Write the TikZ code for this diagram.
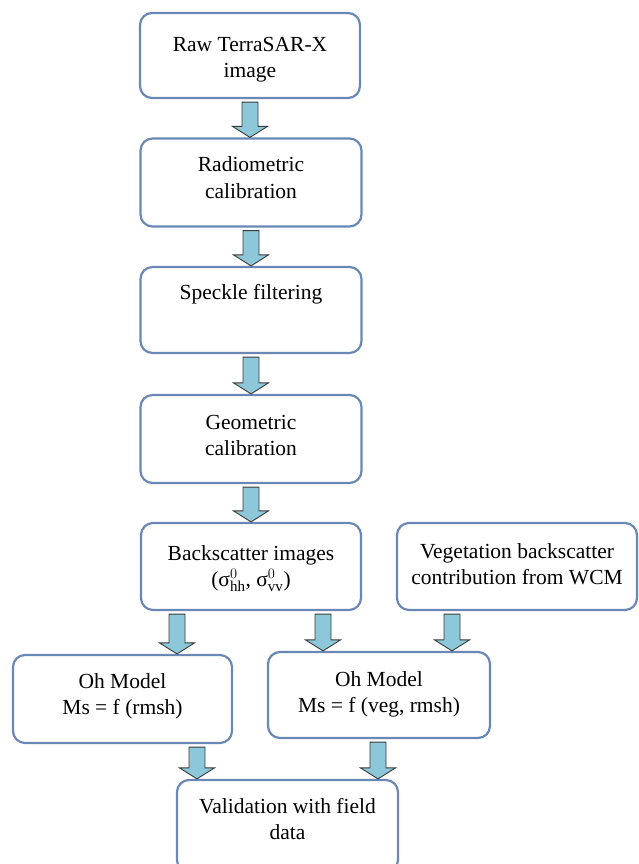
\documentclass[tikz,border=0pt]{standalone}
\usepackage{fontspec}
\setmainfont{Liberation Serif}
\usetikzlibrary{calc}
\definecolor{boxline}{HTML}{6A88B5}
\definecolor{arrfill}{HTML}{8CC8DA}
\definecolor{arrline}{HTML}{3A3A3A}
\tikzset{
  box/.style={draw=boxline, line width=2.2pt, rounded corners=12pt, fill=white, inner sep=0pt},
  txt/.style={anchor=north, align=center, inner sep=0pt, font=\fontsize{21.5}{26.5}\selectfont},
  fat/.style={draw=arrline, fill=arrfill, line width=0.9pt, line join=miter}
}
\newcommand\fatarrow[2]{%
  \draw[fat] let \p1=(#1), \p2=(#2) in
    ({\x1-8pt},{\y1-3pt}) -- ({\x1+8pt},{\y1-3pt}) -- ({\x1+8pt},{\y2+11pt}) --
    ({\x1+17.5pt},{\y2+11pt}) -- ({\x1},{\y2}) -- ({\x1-17.5pt},{\y2+11pt}) --
    ({\x1-8pt},{\y2+11pt}) -- cycle;}
\begin{document}
\begin{tikzpicture}[x=1pt,y=-1pt]
\useasboundingbox (0,0) rectangle (639,864);
\clip (0,0) rectangle (639,864);
\node[box, minimum width=220pt, minimum height=85pt] (b1) at (250,55.5) {};
\node[box, minimum width=221pt, minimum height=88pt] (b2) at (251,182.5) {};
\node[box, minimum width=221pt, minimum height=86pt] (b3) at (251,310) {};
\node[box, minimum width=221pt, minimum height=88pt] (b4) at (251,439) {};
\node[box, minimum width=220pt, minimum height=87pt] (b5) at (251,566.5) {};
\node[box, minimum width=240pt, minimum height=87pt] (b6) at (517,566.5) {};
\node[box, minimum width=219pt, minimum height=88pt] (b7) at (122.5,699) {};
\node[box, minimum width=222pt, minimum height=86pt] (b8) at (379,695) {};
\node[box, minimum width=221pt, minimum height=92pt] (b9) at (287.5,826) {};

\node[txt, yshift=-25pt] (t1) at (b1.north) {Raw TerraSAR-X\\image};
\node[txt, yshift=-19pt] (t2) at (b2.north) {Radiometric\\calibration};
\node[txt, yshift=-18pt] (t3) at (b3.north) {Speckle filtering};
\node[txt, yshift=-21pt] (t4) at (b4.north) {Geometric\\calibration};
\node[txt, yshift=-23pt] (t5) at (b5.north) {Backscatter images\\(σ$^{0}_{\mathrm{hh}}$, σ$^{0}_{\mathrm{vv}}$)};
\node[txt, yshift=-21pt] (t6) at (b6.north) {Vegetation backscatter\\contribution from WCM};
\node[txt, yshift=-19pt] (t7) at (b7.north) {Oh Model\\Ms = f (rmsh)};
\node[txt, yshift=-20pt] (t8) at (b8.north) {Oh Model\\Ms = f (veg, rmsh)};
\node[txt, yshift=-19pt] (t9) at (b9.north) {Validation with field\\data};

\fatarrow{b1.south}{b2.north}
\fatarrow{b2.south}{b3.north}
\fatarrow{b3.south}{b4.north}
\fatarrow{b4.south}{b5.north}
\fatarrow{[xshift=-74pt]b5.south}{b7.north}
\fatarrow{[xshift=72pt]b5.south}{b8.north}
\fatarrow{[xshift=-65pt]b6.south}{b8.north}
\fatarrow{[xshift=74.5pt]b7.south}{b9.north}
\fatarrow{[xshift=-1pt]b8.south}{b9.north}
\end{tikzpicture}
\end{document}
